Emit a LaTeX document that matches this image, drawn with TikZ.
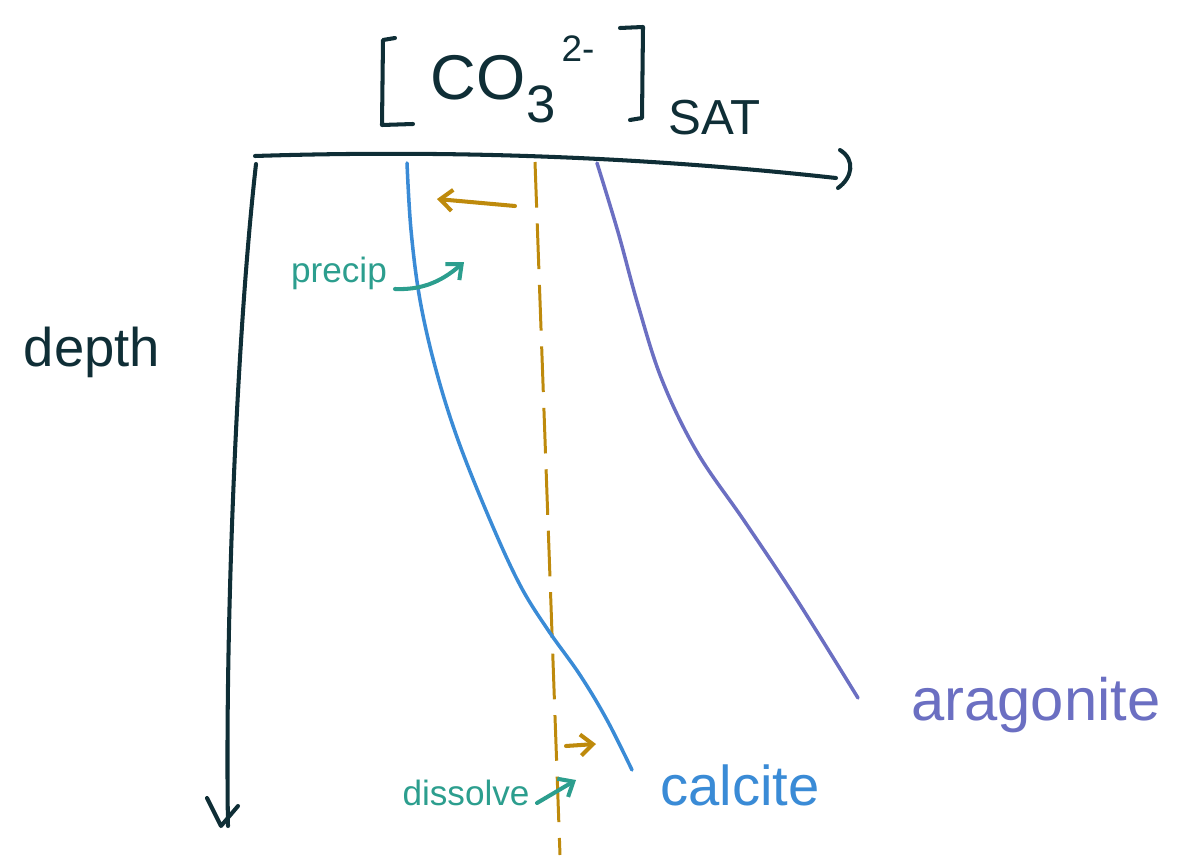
\documentclass[tikz,border=0pt]{standalone}
\usepackage{fontspec}
\setmainfont{Liberation Sans}
\usetikzlibrary{arrows.meta}
\definecolor{ink}{HTML}{0F2E36}
\definecolor{calc}{HTML}{3A8BD6}
\definecolor{arag}{HTML}{6B6FC2}
\definecolor{gold}{HTML}{BE8A0C}
\definecolor{tealc}{HTML}{2C9E8E}
\tikzset{
  axisline/.style={ink, line width=2.3pt, line cap=round, line join=round},
  curveline/.style={line width=2pt, line cap=round},
  goldarrow/.style={gold, line width=2.3pt, line cap=round, -{Straight Barb[length=7pt,width=12pt,line width=2.3pt]}},
  tealarrow/.style={tealc, line width=2.3pt, line cap=round, -{Straight Barb[length=7pt,width=12pt,line width=2.3pt]}},
  lbl/.style={inner sep=0pt, anchor=base},
}
\begin{document}
\begin{tikzpicture}[x=0.02cm, y=-0.02cm]
\useasboundingbox (0,0) rectangle (1190,865);
% title
\draw[axisline] (395,38) -- (383,40) -- (382,125) -- (413,124);
\draw[axisline] (620,28) -- (643,27) -- (642,118) -- (630,120);
\node[lbl, ink, font=\fontsize{36}{40}\selectfont] (co) at (478,100) {CO};
\node[lbl, ink, font=\fontsize{30}{34}\selectfont] (three) at (541,123) {3};
\node[lbl, ink, font=\fontsize{21}{24}\selectfont] (chg) at (578,62) {2-};
\node[lbl, ink, font=\fontsize{28}{32}\selectfont] (sat) at (715,134) {SAT};
% axes
\coordinate (xs) at (255,156);
\coordinate (xe) at (836,178);
\draw[axisline] (xs) .. controls (500,148) and (700,163) .. (xe);
\draw[axisline] (840,150) .. controls (856,160) and (852,178) .. (838,188);
\coordinate (ys) at (256,164);
\coordinate (ye) at (228,826);
\draw[axisline] (ys) .. controls (235,350) and (225,650) .. (ye);
\draw[axisline] (207,798) -- (221,826) -- (238,806);
% dashed reference
\coordinate (ds) at (535,162);
\coordinate (de) at (560,855);
\draw[gold, line width=1.7pt, dash pattern=on 26pt off 9pt] (ds) -- (de);
% calcite
\draw[calc, curveline] plot[smooth, tension=0.6] coordinates
  {(407,163) (411,230) (420,300) (436,370) (458,440) (490,520) (520,585) (548,630) (580,675) (607,720) (632,770)};
% aragonite
\draw[arag, curveline] plot[smooth, tension=0.6] coordinates
  {(597,163) (618,232) (638,305) (662,380) (697,452) (745,522) (797,600) (858,698)};
% arrows
\coordinate (ga1) at (515,206);
\coordinate (ga2) at (437,199);
\draw[goldarrow] (ga1) -- (ga2);
\coordinate (gb1) at (566,746);
\coordinate (gb2) at (596,744);
\draw[goldarrow] (gb1) -- (gb2);
\coordinate (pa1) at (395,289);
\coordinate (pa2) at (464,262);
\draw[tealarrow] (pa1) .. controls (420,290) and (440,283) .. (pa2);
\coordinate (da1) at (537,803);
\coordinate (da2) at (576,780);
\draw[tealarrow] (da1) -- (da2);
% labels
\node[lbl, ink, font=\fontsize{31}{36}\selectfont] (depth) at (92,366) {depth};
\node[lbl, tealc, font=\fontsize{20}{24}\selectfont] (precip) at (339,282) {precip};
\node[lbl, tealc, font=\fontsize{20}{24}\selectfont] (dissolve) at (466,805) {dissolve};
\node[lbl, calc, font=\fontsize{32}{36}\selectfont] (calcite) at (740,805) {calcite};
\node[lbl, arag, font=\fontsize{34}{38}\selectfont] (aragonite) at (1036,720) {aragonite};
\end{tikzpicture}
\end{document}
